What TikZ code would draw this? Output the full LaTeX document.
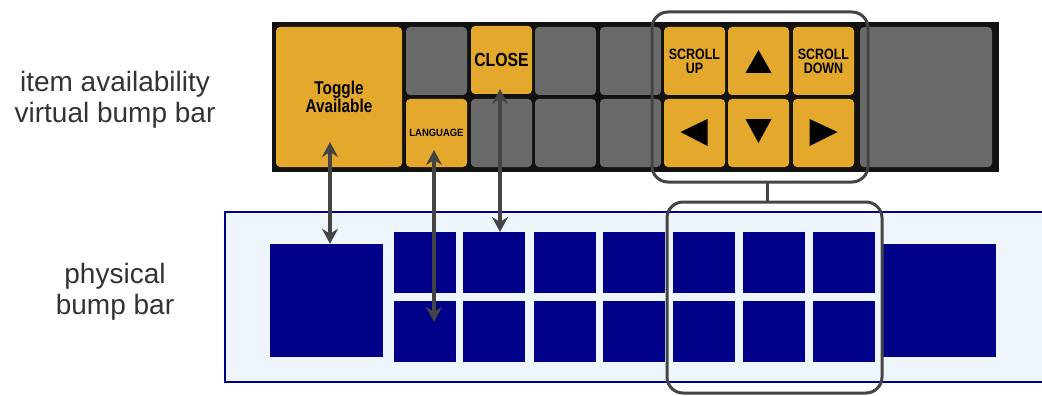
\documentclass[tikz,border=0pt]{standalone}
\usepackage{fontspec}
\setmainfont{Liberation Sans}
\usepackage{graphicx}
\usetikzlibrary{arrows.meta,calc}
\definecolor{gold}{HTML}{E4A92C}
\definecolor{keygray}{HTML}{6A6A6A}
\definecolor{barblack}{HTML}{121212}
\definecolor{navy}{HTML}{000088}
\definecolor{pale}{HTML}{EEF5FC}
\definecolor{conn}{HTML}{444444}
\definecolor{labelgray}{HTML}{333333}
\newcommand\nar[1]{\scalebox{0.83}[1]{#1}}
\begin{document}
\begin{tikzpicture}[x=1pt,y=-1pt,
  vkey/.style={rounded corners=4pt, inner sep=0pt, outer sep=0pt, text=black, align=center,
               minimum width=61pt, minimum height=68pt},
  goldkey/.style={vkey, fill=gold},
  graykey/.style={vkey, fill=keygray},
  pkey/.style={fill=navy, inner sep=0pt, outer sep=0pt, minimum width=62pt, minimum height=61pt},
  sidelabel/.style={text=labelgray, align=center, font=\fontsize{28}{31}\selectfont},
  selbox/.style={draw=conn, line width=3pt, rounded corners=16pt, inner sep=0pt, outer sep=0pt},
  conarrow/.style={draw=conn, line width=4.5pt, {Stealth[length=15pt,width=16pt,inset=5pt]}-{Stealth[length=15pt,width=16pt,inset=5pt]}},
  tri/.style={fill=black}]
\useasboundingbox (0,0) rectangle (1042,396);

% side labels
\node[sidelabel] (lblv) at (115,100) {item availability\\virtual bump bar};
\node[sidelabel] (lblp) at (115,292) {physical\\bump bar};

% virtual bump bar
\node[fill=barblack, inner sep=0pt, minimum width=727pt, minimum height=150pt] (vbar) at (635.5,97) {};
\node[goldkey, minimum width=126pt, minimum height=140pt, font=\fontsize{18.5}{16}\selectfont\bfseries] (toggle) at (339,97) {\nar{Toggle}\\\nar{Available}};
\node[graykey] (k2t) at (436.5,61) {};
\node[goldkey, font=\fontsize{10.5}{10}\selectfont\bfseries] (lang) at (436.5,133) {\scalebox{0.9}[1]{LANGUAGE}};
\node[goldkey, font=\fontsize{19}{18}\selectfont\bfseries] (close) at (501.5,60) {\nar{CLOSE}};
\node[graykey] (k3b) at (501.5,133) {};
\node[graykey] (k4t) at (565.5,61) {};
\node[graykey] (k4b) at (565.5,133) {};
\node[graykey] (k5t) at (630.5,61) {};
\node[graykey] (k5b) at (630.5,133) {};
\node[goldkey, font=\fontsize{15}{14}\selectfont\bfseries] (sup) at (694.5,61) {\nar{SCROLL}\\\nar{UP}};
\node[goldkey] (kleft) at (694.5,133) {};
\node[goldkey] (kup) at (758.5,61) {};
\node[goldkey] (kdown) at (758.5,133) {};
\node[goldkey, font=\fontsize{15}{14}\selectfont\bfseries] (sdown) at (823.5,61) {\nar{SCROLL}\\\nar{DOWN}};
\node[goldkey] (kright) at (823.5,133) {};
\node[graykey, minimum width=132pt, minimum height=140pt] (kbig) at (926,97) {};

% arrow glyphs
\fill[tri, shift={(kup.center)}] (-13,12) -- (13,12) -- (0,-11) -- cycle;
\fill[tri, shift={(kdown.center)}] (-13,-14) -- (13,-14) -- (0,10) -- cycle;
\fill[tri, shift={(kleft.center)}] (-14,-1) -- (13,-14) -- (13,13) -- cycle;
\fill[tri, shift={(kright.center)}] (-14,-14) -- (-14,13) -- (14,-1) -- cycle;

% physical bump bar
\node[draw=navy, line width=2pt, fill=pale, inner sep=0pt, minimum width=825pt, minimum height=170pt] (pbar) at (637.5,297) {};
\node[fill=navy, inner sep=0pt, minimum size=113pt] (pbig) at (326.5,300.5) {};
\node[fill=navy, inner sep=0pt, minimum size=113pt] (pbigr) at (939.5,300.5) {};
\foreach \i/\x in {1/425,2/494,3/565,4/634,5/704,6/774,7/844}{
  \node[pkey] (p\i t) at (\x,262.5) {};
  \node[pkey] (p\i b) at (\x,331.5) {};
}

% connectors between virtual and physical keys
\coordinate (ax1) at (330,0);
\coordinate (ax2) at (434,0);
\coordinate (ax3) at (500,0);
\draw[conarrow] ($(toggle.south -| ax1)+(0,-25)$) -- (pbig.north -| ax1);
\draw[conarrow] ($(lang.south -| ax2)+(0,-17)$) -- ($(p1b.north -| ax2)+(0,21)$);
\draw[conarrow] ($(close.south -| ax3)+(0,-5)$) -- (p2t.north -| ax3);

% selection boxes
\node[selbox, minimum width=216pt, minimum height=170pt] (selv) at (760,97) {};
\node[selbox, minimum width=215pt, minimum height=191pt] (selp) at (774.5,297.5) {};
\coordinate (stem) at (767,0);
\draw[draw=conn, line width=3pt] (selv.south -| stem) -- (selp.north -| stem);
\end{tikzpicture}
\end{document}
